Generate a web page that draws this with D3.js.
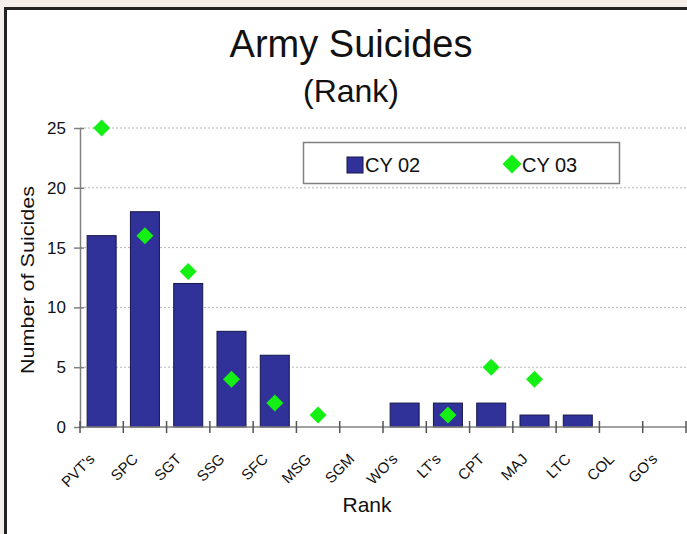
<!DOCTYPE html>
<html>
<head>
<meta charset="utf-8">
<script src="https://cdn.jsdelivr.net/npm/d3@7"></script>
<style>
  html, body { margin: 0; padding: 0; background: #f4eeea; }
  svg { display: block; font-family: "Liberation Sans", Arial, sans-serif; }
</style>
</head>
<body>
<script>
'use strict';

// chart data
const ranks = ["PVT's", "SPC", "SGT", "SSG", "SFC", "MSG", "SGM", "WO's", "LT's", "CPT", "MAJ", "LTC", "COL", "GO's"];
const cy02 = [16, 18, 12, 8, 6, 0, 0, 2, 2, 2, 1, 1, 0, 0];
const cy03 = [25, 16, 13, 4, 2, 1, null, null, 1, 5, 4, null, null, null];
const yTicks = [0, 5, 10, 15, 20, 25];

const barColor = "#31319a";
const diamondColor = "#14f014";

(function() {
  let svg = d3.select('body')
    .append('svg')
    .attr('width', 687)
    .attr('height', 534);

  // white chart panel with dark frame (left + top edges visible)
  svg.append('rect')
    .attr('x', 5.5)
    .attr('y', 8.5)
    .attr('width', 720)
    .attr('height', 560)
    .attr('fill', '#ffffff')
    .attr('stroke', '#222222')
    .attr('stroke-width', 3);

  // scales
  let x = d3.scaleBand()
    .domain(ranks)
    .range([80, 686])
    .paddingInner(0.33)
    .paddingOuter(0.165);

  let y = d3.scaleLinear()
    .domain([0, 25])
    .range([427, 128]);

  let gap = (x.step() - x.bandwidth()) / 2;

  // dotted gridlines
  svg.selectAll('.grid')
    .data(yTicks.filter(d => d > 0))
    .enter()
    .append('line')
    .attr('x1', 80)
    .attr('x2', 686)
    .attr('y1', d => y(d))
    .attr('y2', d => y(d))
    .attr('stroke', '#b4b4b4')
    .attr('stroke-width', 1)
    .style('stroke-dasharray', '2, 2');

  // legend box
  svg.append('rect')
    .attr('x', 303.5)
    .attr('y', 142.5)
    .attr('width', 316)
    .attr('height', 41)
    .attr('fill', '#ffffff')
    .attr('stroke', '#808080')
    .attr('stroke-width', 1.5);

  // bars CY 02
  svg.selectAll('.bar')
    .data(ranks.map((r, i) => ({ rank: r, v: cy02[i] })).filter(d => d.v > 0))
    .enter()
    .append('rect')
    .attr('x', d => x(d.rank))
    .attr('y', d => y(d.v))
    .attr('width', x.bandwidth())
    .attr('height', d => y(0) - y(d.v))
    .attr('fill', barColor)
    .attr('stroke', '#16164a')
    .attr('stroke-width', 1);

  // y axis
  let yAxis = d3.axisLeft(y)
    .tickValues(yTicks)
    .tickSize(0)
    .tickPadding(14);
  let gy = svg.append('g')
    .attr('transform', 'translate(80, 0)')
    .call(yAxis);
  gy.select('.domain').attr('stroke', '#808080').attr('stroke-width', 1.5);
  gy.selectAll('.tick line').remove();
  gy.selectAll('.tick')
    .append('line')
    .attr('x1', -6)
    .attr('x2', 4)
    .attr('stroke', '#808080')
    .attr('stroke-width', 1.5);
  gy.selectAll('.tick text')
    .attr('fill', '#111')
    .style('font-size', '17px');

  // x axis baseline and category boundary ticks
  svg.append('line')
    .attr('x1', 80)
    .attr('x2', 686)
    .attr('y1', y(0))
    .attr('y2', y(0))
    .attr('stroke', '#808080')
    .attr('stroke-width', 1.5);

  let bounds = ranks.map(r => x(r) - gap).concat([x(ranks[ranks.length - 1]) + x.bandwidth() + gap]);
  svg.selectAll('.xtick')
    .data(bounds)
    .enter()
    .append('line')
    .attr('x1', d => d)
    .attr('x2', d => d)
    .attr('y1', y(0) - 6)
    .attr('y2', y(0) + 6)
    .attr('stroke', '#555')
    .attr('stroke-width', 1.5);

  // rotated category labels
  svg.selectAll('.xlabel')
    .data(ranks)
    .enter()
    .append('text')
    .attr('transform', d => 'translate(' + (x(d) + x.bandwidth() / 2 - 6) + ',' + 460 + ')rotate(-45)')
    .attr('text-anchor', 'end')
    .style('font-size', '15px')
    .attr('fill', '#111')
    .text(d => d);

  // diamonds CY 03
  let diamond = (s) => 'M0,' + (-s) + 'L' + s + ',0L0,' + s + 'L' + (-s) + ',0Z';
  svg.selectAll('.dia')
    .data(ranks.map((r, i) => ({ rank: r, v: cy03[i] })).filter(d => d.v != null))
    .enter()
    .append('path')
    .attr('d', diamond(8.5))
    .attr('transform', d => 'translate(' + (x(d.rank) + x.bandwidth() / 2) + ',' + y(d.v) + ')')
    .attr('fill', diamondColor);

  // legend contents
  svg.append('rect')
    .attr('x', 347)
    .attr('y', 157)
    .attr('width', 16)
    .attr('height', 16)
    .attr('fill', barColor)
    .attr('stroke', '#16164a');
  svg.append('text')
    .attr('x', 365)
    .attr('y', 172)
    .style('font-size', '20px')
    .attr('fill', '#111')
    .text('CY 02');
  svg.append('path')
    .attr('d', diamond(9.5))
    .attr('transform', 'translate(512, 164)')
    .attr('fill', diamondColor);
  svg.append('text')
    .attr('x', 522)
    .attr('y', 172)
    .style('font-size', '20px')
    .attr('fill', '#111')
    .text('CY 03');

  // titles
  svg.append('text')
    .attr('x', 351)
    .attr('y', 57)
    .attr('text-anchor', 'middle')
    .style('font-size', '38px')
    .attr('fill', '#111')
    .text('Army Suicides');
  svg.append('text')
    .attr('x', 351)
    .attr('y', 102)
    .attr('text-anchor', 'middle')
    .style('font-size', '32px')
    .attr('fill', '#111')
    .text('(Rank)');

  // axis labels
  svg.append('text')
    .attr('transform', 'translate(34, 280)rotate(-90)')
    .attr('text-anchor', 'middle')
    .attr('textLength', 188)
    .attr('lengthAdjust', 'spacingAndGlyphs')
    .style('font-size', '19px')
    .attr('fill', '#111')
    .text('Number of Suicides');
  svg.append('text')
    .attr('x', 367)
    .attr('y', 512)
    .attr('text-anchor', 'middle')
    .style('font-size', '21px')
    .attr('fill', '#111')
    .text('Rank');
})();
</script>
</body>
</html>
